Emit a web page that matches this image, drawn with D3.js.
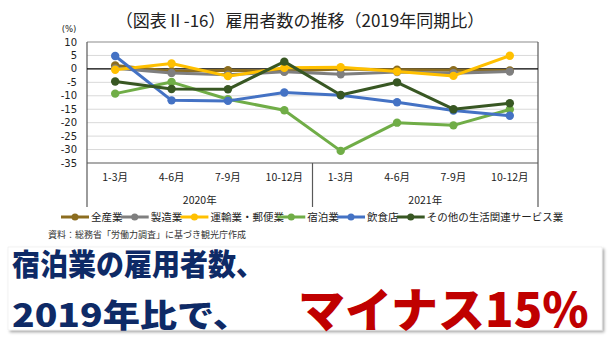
<!DOCTYPE html>
<html><head><meta charset="utf-8">
<script src="https://cdn.jsdelivr.net/npm/d3@7"></script>
<style>
html,body{margin:0;padding:0;background:#fff;}
svg{display:block;font-family:"Noto Sans CJK JP","Noto Sans",sans-serif;}
</style></head>
<body>
<svg id="c" width="610" height="342"></svg>
<script>
const title = "（図表Ⅱ-16）雇用者数の推移（2019年同期比）";
const quarters = ["1-3月","4-6月","7-9月","10-12月","1-3月","4-6月","7-9月","10-12月"];
const years = ["2020年","2021年"];
const yTicks = [10,5,0,-5,-10,-15,-20,-25,-30,-35];
const seriesNames = ["全産業","製造業","運輸業・郵便業","宿泊業","飲食店","その他の生活関連サービス業"];
const seriesColors = ["#8C6D1F","#7F7F7F","#FFC000","#70AD47","#4472C4","#385723"];
const allIndustries = [1.3,-0.9,-0.5,-0.9,0.0,-0.3,-0.5,-0.6];
const manufacturing = [0.2,-1.5,-2.2,-1.1,-2.0,-1.2,-1.6,-1.0];
const transport = [-0.3,2.0,-2.7,0.4,0.6,-1.0,-2.6,4.9];
const lodging = [-9.2,-4.9,-11.3,-15.4,-30.5,-20.0,-21.0,-15.1];
const restaurants = [4.8,-11.7,-11.9,-8.8,-9.8,-12.4,-15.5,-17.4];
const otherServices = [-4.7,-7.5,-7.6,2.7,-9.7,-5.0,-15.0,-12.8];
const seriesValues = [allIndustries,manufacturing,transport,lodging,restaurants,otherServices];
const sourceNote = "資料：総務省「労働力調査」に基づき観光庁作成";
const headline1 = "宿泊業の雇用者数、";
const headline2 = "2019年比で、";
const headline3 = "マイナス15%";

const svg = d3.select("#c");
const m = {l:87, r:538, t:42, b:163};
const x = d3.scaleBand().domain(d3.range(quarters.length)).range([m.l,m.r]);
const y = d3.scaleLinear().domain([-35,10]).range([m.b,m.t]);

// title
svg.append("text").attr("x",300).attr("y",27).attr("text-anchor","middle")
  .attr("font-size",17).attr("font-weight",400).attr("fill","#222").text(title);

// gridlines
svg.append("g").selectAll("line").data(yTicks.filter(d=>d!==0 && d!==-35 && d!==10)).join("line")
  .attr("x1",m.l).attr("x2",m.r).attr("y1",d=>y(d)).attr("y2",d=>y(d))
  .attr("stroke","#D9D9D9").attr("stroke-width",1);

// frame
const frame = svg.append("g").attr("stroke","#595959").attr("stroke-width",1.2).attr("fill","none");
frame.append("line").attr("x1",m.l).attr("x2",m.r).attr("y1",m.t).attr("y2",m.t).attr("stroke","#8c8c8c");
frame.append("line").attr("x1",m.l).attr("x2",m.r).attr("y1",m.b).attr("y2",m.b);
frame.append("line").attr("x1",m.l).attr("x2",m.l).attr("y1",m.t).attr("y2",207);
frame.append("line").attr("x1",m.r).attr("x2",m.r).attr("y1",m.t).attr("y2",207);
frame.append("line").attr("x1",x(4)).attr("x2",x(4)).attr("y1",m.b).attr("y2",207);

// zero line
svg.append("line").attr("x1",m.l).attr("x2",m.r).attr("y1",y(0)).attr("y2",y(0))
  .attr("stroke","#000").attr("stroke-width",1.2);

// y axis labels
svg.append("g").selectAll("text").data(yTicks).join("text")
  .attr("x",77).attr("y",d=>y(d)+3.6).attr("text-anchor","end")
  .attr("font-family","DejaVu Sans").attr("font-size",10).attr("fill","#222").text(d=>d);
svg.append("text").attr("x",69).attr("y",32).attr("text-anchor","middle")
  .attr("font-family","DejaVu Sans").attr("font-size",8.5).attr("fill","#222").text("(%)");

// x labels
svg.append("g").selectAll("text").data(quarters).join("text")
  .attr("x",(d,i)=>x(i)+x.bandwidth()/2).attr("y",181).attr("text-anchor","middle")
  .attr("font-size",10.5).attr("fill","#222").text(d=>d);
svg.append("g").selectAll("text").data(years).join("text")
  .attr("x",(d,i)=>x(i*4)+x.bandwidth()*2).attr("y",204).attr("text-anchor","middle")
  .attr("font-size",10.5).attr("fill","#222").text(d=>d);

// series
const line = d3.line().x((d,i)=>x(i)+x.bandwidth()/2).y(d=>y(d));
seriesValues.forEach((vals,k)=>{
  const g = svg.append("g");
  g.append("path").attr("d",line(vals)).attr("fill","none")
    .attr("stroke",seriesColors[k]).attr("stroke-width",3).attr("stroke-linejoin","round");
  g.selectAll("circle").data(vals).join("circle")
    .attr("cx",(d,i)=>x(i)+x.bandwidth()/2).attr("cy",d=>y(d)).attr("r",4.2)
    .attr("fill",seriesColors[k]);
});

// legend
const lg = svg.append("g");
const items = [];
seriesNames.forEach((n,k)=>{
  const it = lg.append("g");
  it.append("line").attr("x1",0).attr("x2",28).attr("y1",0).attr("y2",0)
    .attr("stroke",seriesColors[k]).attr("stroke-width",3);
  it.append("circle").attr("cx",14).attr("cy",0).attr("r",3.5).attr("fill",seriesColors[k]);
  const t = it.append("text").attr("x",30).attr("y",4).attr("font-size",10.5).attr("fill","#222").text(n);
  const w = t.node().getComputedTextLength();
  items.push({it,w});
});
const gap = 6;
const total = items.reduce((s,o)=>s+30+o.w,0)+gap*(items.length-1);
let lx = 61;
const scale = (544-61)/total;
items.forEach(o=>{ o.it.attr("transform",`translate(${lx},217)`); lx += (30+o.w+gap)*scale; });

// source
svg.append("text").attr("x",48).attr("y",238).attr("font-size",9).attr("fill","#333").text(sourceNote);

// headline box
const defs = svg.append("defs");
const f = defs.append("filter").attr("id","sh").attr("x","-5%").attr("y","-10%").attr("width","110%").attr("height","130%");
f.append("feDropShadow").attr("dx",2).attr("dy",2).attr("stdDeviation",1.5).attr("flood-color","#000").attr("flood-opacity",0.35);
svg.append("rect").attr("x",8).attr("y",247).attr("width",594).attr("height",83)
  .attr("fill","#fff").attr("stroke","#e6e6e6").attr("stroke-width",0.5).attr("filter","url(#sh)");
svg.append("text").attr("x",12).attr("y",275).attr("font-size",30).attr("font-weight",900)
  .attr("fill","#0E2A66").attr("textLength",252).attr("lengthAdjust","spacingAndGlyphs").text(headline1);
svg.append("text").attr("x",12).attr("y",327).attr("font-size",32).attr("font-weight",900)
  .attr("fill","#0E2A66").attr("textLength",238).attr("lengthAdjust","spacingAndGlyphs").text(headline2);
svg.append("text").attr("x",298).attr("y",327).attr("font-size",47).attr("font-weight",900)
  .attr("fill","#C00000").text(headline3);
</script>
</body></html>
